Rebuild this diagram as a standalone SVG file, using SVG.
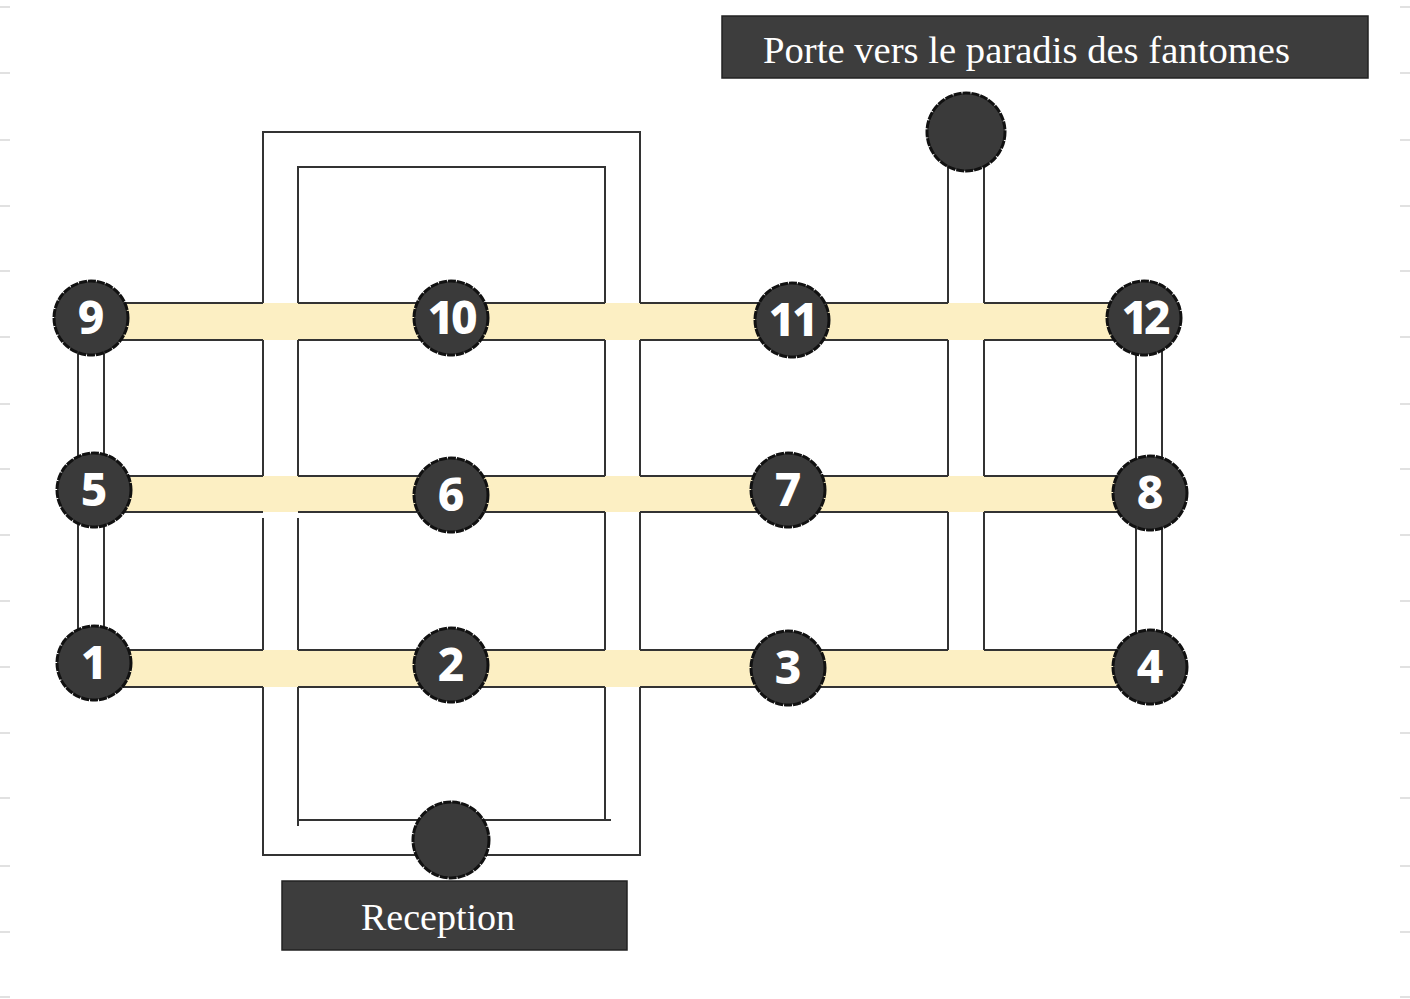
<svg xmlns="http://www.w3.org/2000/svg" width="1410" height="999" viewBox="0 0 1410 999">
<style>
.band{fill:#fcefc3}
.wall{stroke:#333;stroke-width:2;fill:none}
.node{fill:#3a3a3a;stroke:#111;stroke-width:3;stroke-dasharray:8 1}
.num{fill:#fff;font-family:"Noto Sans","DejaVu Sans",sans-serif;font-weight:800;font-size:46px;text-anchor:middle}
.box{fill:#3d3d3d;stroke:#222;stroke-width:1.5}
.lbl{fill:#fff;font-family:"Liberation Serif","DejaVu Serif",serif;font-size:38px}
.tick{stroke:#d8d8d8;stroke-width:1.5}
</style>
<rect width="1410" height="999" fill="#fff"/>
<g id="ticks">
<path class="tick" d="M0 7H10M0 73H10M0 140H10M0 206H10M0 271H10M0 337H10M0 404H10M0 469H10M0 535H10M0 601H10M0 667H10M0 733H10M0 798H10M0 866H10M0 932H10M0 997H10"/>
<path class="tick" d="M1400 7H1410M1400 73H1410M1400 140H1410M1400 206H1410M1400 271H1410M1400 337H1410M1400 404H1410M1400 469H1410M1400 535H1410M1400 601H1410M1400 667H1410M1400 733H1410M1400 798H1410M1400 866H1410M1400 932H1410M1400 997H1410"/>
</g>
<g id="connectors">
<rect class="band" x="91" y="303" width="1053" height="37"/>
<rect class="band" x="94" y="476" width="1056" height="36"/>
<rect class="band" x="94" y="650" width="1056" height="37"/>
<path class="wall" d="M91 303H263M298 303H605M640 303H948M984 303H1144M91 340H263M298 340H605M640 340H948M984 340H1144"/>
<path class="wall" d="M94 476H263M298 476H605M640 476H948M984 476H1150M94 512H263M298 512H605M640 512H948M984 512H1150"/>
<path class="wall" d="M94 650H263M298 650H605M640 650H948M984 650H1150M94 687H263M298 687H605M640 687H1150"/>
<path class="wall" d="M263 303V132H640V303M263 340V476M263 518V650M263 687V855H640V687M640 340V476M640 512V650"/>
<path class="wall" d="M298 303V167H605V303M298 340V476M298 518V650M298 687V826M298 820H611M605 820V687M605 340V476M605 512V650"/>
<path class="wall" d="M948 165V303M948 340V476M948 512V650M984 165V303M984 340V476M984 512V650"/>
<path class="wall" d="M78 340V663M104 340V663M1136 330V667M1162 330V667"/>
</g>
<g id="porte">
<rect class="box" x="722" y="16" width="646" height="62"/>
<text class="lbl" x="763" y="63" textLength="527" lengthAdjust="spacingAndGlyphs">Porte vers le paradis des fantomes</text>
<circle class="node" cx="966" cy="132" r="39"/>
</g>
<g id="reception">
<circle class="node" cx="451" cy="840" r="38"/>
<rect class="box" x="282" y="881" width="345" height="69"/>
<text class="lbl" x="438" y="930" text-anchor="middle">Reception</text>
</g>
<g id="n9"><circle class="node" cx="91" cy="318" r="37"/><text class="num" x="91" y="334">9</text></g>
<g id="n10"><circle class="node" cx="451" cy="318" r="37"/><text class="num" x="451" y="334" letter-spacing="-3">10</text></g>
<g id="n11"><circle class="node" cx="792" cy="320" r="37"/><text class="num" x="792" y="336" letter-spacing="-3">11</text></g>
<g id="n12"><circle class="node" cx="1144" cy="318" r="37"/><text class="num" x="1144" y="334" letter-spacing="-4">12</text></g>
<g id="n5"><circle class="node" cx="94" cy="490" r="37"/><text class="num" x="94" y="506">5</text></g>
<g id="n6"><circle class="node" cx="451" cy="495" r="37"/><text class="num" x="451" y="511">6</text></g>
<g id="n7"><circle class="node" cx="788" cy="490" r="37"/><text class="num" x="788" y="506">7</text></g>
<g id="n8"><circle class="node" cx="1150" cy="493" r="37"/><text class="num" x="1150" y="509">8</text></g>
<g id="n1"><circle class="node" cx="94" cy="663" r="37"/><text class="num" x="94" y="679">1</text></g>
<g id="n2"><circle class="node" cx="451" cy="665" r="37"/><text class="num" x="451" y="681">2</text></g>
<g id="n3"><circle class="node" cx="788" cy="668" r="37"/><text class="num" x="788" y="684">3</text></g>
<g id="n4"><circle class="node" cx="1150" cy="667" r="37"/><text class="num" x="1150" y="683">4</text></g>
</svg>
